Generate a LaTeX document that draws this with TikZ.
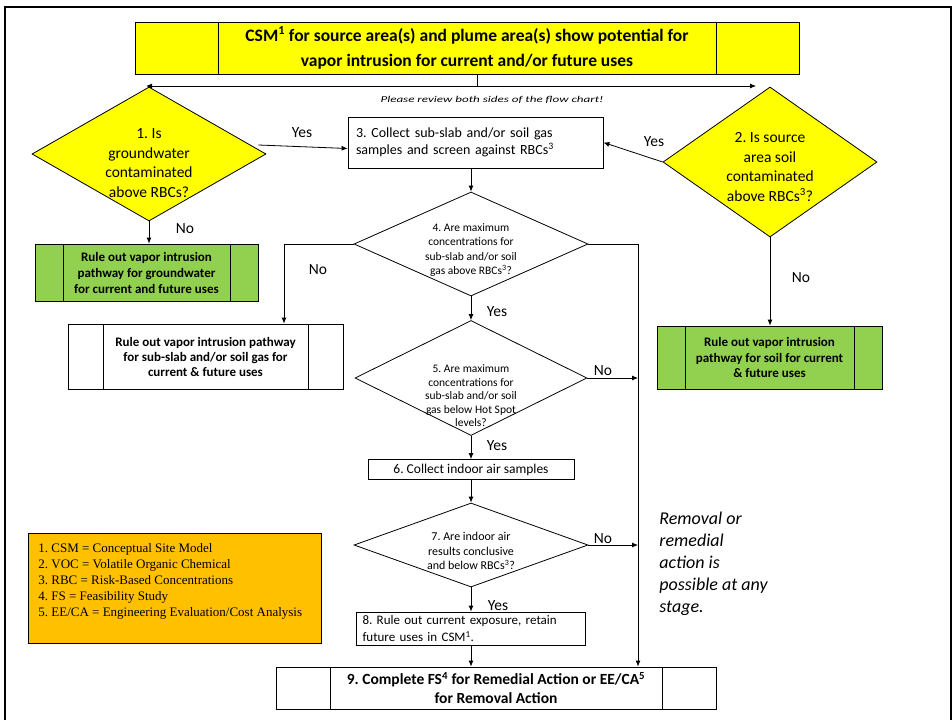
\documentclass[tikz,border=0pt]{standalone}
\usepackage{fontspec}
\usepackage{graphicx}
\setmainfont{Carlito}
\newfontfamily\legendfont{Liberation Serif}
\usetikzlibrary{shapes.geometric, arrows.meta}

\definecolor{flowyellow}{HTML}{FFFF00}
\definecolor{rulegreen}{HTML}{92D050}
\definecolor{keyorange}{HTML}{FFC000}

\newcommand{\setfs}[2]{\fontsize{#1}{#2}\selectfont}

\begin{document}
\frenchspacing
\begin{tikzpicture}[x=1pt, y=-1pt, >={Latex[length=6pt,width=5pt]}, line width=0.8pt,
        decision/.style={diamond, draw, fill=white, inner sep=0pt},
        dtext/.style={align=center, inner sep=0pt},
        procbox/.style={draw, fill=white, inner sep=0pt},
        predef/.style={procbox, path picture={
            \draw ([xshift=#1]path picture bounding box.north west) -- ([xshift=#1]path picture bounding box.south west);
            \draw ([xshift=-#1]path picture bounding box.north east) -- ([xshift=-#1]path picture bounding box.south east);}},
        lbl/.style={font=\setfs{15.5}{18}, inner sep=0pt}]
    \useasboundingbox (0,0) rectangle (952,720);
    \fill[white] (0,0) rectangle (952,720);
    \draw[line width=2pt] (5,720) -- (5,7) -- (951,7) -- (951,720);

    % Nodes
    \node[predef=83pt, fill=flowyellow, minimum width=664pt, minimum height=52pt, align=center,
          font=\bfseries\setfs{17.5}{25}] (csm) at (467,48)
        {CSM\textsuperscript{1} for source area(s) and plume area(s) show potential for\\vapor intrusion for current and/or future uses};
    \coordinate (split) at (477,86);
    \coordinate (arrL) at (146,86);
    \coordinate (arrR) at (756,86);
    \node[font=\itshape\setfs{9}{10}, inner sep=0pt] (review) at (492,100)
        {\scalebox{1.45}[1]{Please review both sides of the flow chart!}};

    \node[decision, fill=flowyellow, minimum width=234pt, minimum height=134pt] (q1) at (149,154) {};
    \node[dtext, font=\setfs{15.5}{19.5}] (q1txt) at (149,163) {1. Is\\groundwater\\contaminated\\above RBCs?};
    \node[decision, fill=flowyellow, minimum width=214pt, minimum height=150pt] (q2) at (770,162) {};
    \node[dtext, font=\setfs{15.5}{19.5}] (q2txt) at (770,167) {2. Is source\\area soil\\contaminated\\above RBCs\textsuperscript{3}?};

    \node[procbox, minimum width=255pt, minimum height=51pt, text width=239pt, align=left,
          font=\setfs{14}{17}] (sample) at (475.5,142.5)
        {3. Collect sub-slab and/or soil gas\\samples and screen against RBCs\textsuperscript{3}};

    \node[decision, minimum width=234pt, minimum height=104pt] (q4) at (471,244) {};
    \node[dtext, font=\setfs{11.5}{14.3}] (q4txt) at (471,250) {4. Are maximum\\concentrations for\\sub-slab and/or soil\\gas above RBCs\textsuperscript{3}?};
    \node[decision, minimum width=232pt, minimum height=115pt] (q5) at (471,378) {};
    \node[dtext, font=\setfs{11.5}{13.5}] (q5txt) at (471,396) {5. Are maximum\\concentrations for\\sub-slab and/or soil\\gas below Hot Spot\\levels?};
    \node[procbox, minimum width=206pt, minimum height=20pt, font=\setfs{13.5}{16}] (indoor) at (471,469.5) {6. Collect indoor air samples};
    \node[decision, minimum width=234pt, minimum height=84pt] (q7) at (471,545) {};
    \node[dtext, font=\setfs{12}{14.5}] (q7txt) at (471,551) {7. Are indoor air\\results conclusive\\and below RBCs\textsuperscript{3}?};
    \node[procbox, minimum width=229pt, minimum height=33pt, text width=217pt, align=left,
          font=\setfs{13}{17}] (exposure) at (471,628.5)
        {8. Rule out current exposure, retain\\future uses in CSM\textsuperscript{1}.};
    \node[predef=54pt, minimum width=440pt, minimum height=42pt, align=center,
          font=\bfseries\setfs{15.5}{19}] (fs) at (496,688)
        {9. Complete FS\textsuperscript{4} for Remedial Action or EE/CA\textsuperscript{5}\\for Removal Action};

    \node[predef=28pt, fill=rulegreen, minimum width=223pt, minimum height=57pt, align=center,
          font=\bfseries\setfs{13}{16}] (green1) at (146.5,272.5)
        {Rule out vapor intrusion\\pathway for groundwater\\for current and future uses};
    \node[predef=35pt, minimum width=275pt, minimum height=65pt, align=center,
          font=\bfseries\setfs{13}{15}] (ruleout) at (205.5,356.5)
        {Rule out vapor intrusion pathway\\for sub-slab and/or soil gas for\\current \& future uses};
    \node[predef=28pt, fill=rulegreen, minimum width=225pt, minimum height=63pt, align=center,
          font=\bfseries\setfs{13}{15.5}] (green2) at (769.5,357.5)
        {Rule out vapor intrusion\\pathway for soil for current\\\& future uses};

    \node[procbox, fill=keyorange, minimum width=293pt, minimum height=110pt] (legend) at (174.5,588) {};
    \node[anchor=north west, align=left, inner sep=0pt, font=\legendfont\setfs{13}{16}] (legendtxt) at (38,543)
        {1. CSM = Conceptual Site Model\\2. VOC = Volatile Organic Chemical\\3. RBC = Risk-Based Concentrations\\4. FS = Feasibility Study\\5. EE/CA = Engineering Evaluation/Cost Analysis};
    \node[anchor=north west, align=left, inner sep=0pt, font=\itshape\setfs{18}{22}] (anytime) at (659,512)
        {Removal or\\remedial\\action is\\possible at any\\stage.};

    % Labels
    \node[lbl] (yes1) at (302,133) {Yes};
    \node[lbl] (yes2) at (654,142) {Yes};
    \node[lbl] (no1) at (185,229) {No};
    \node[lbl] (no2) at (801,278) {No};
    \node[lbl] (no4) at (318,270) {No};
    \node[lbl] (yes4) at (497,312) {Yes};
    \node[lbl] (no5) at (603,371) {No};
    \node[lbl] (yes5) at (497,446) {Yes};
    \node[lbl] (no7) at (603,539) {No};
    \node[lbl] (yes7) at (498,606) {Yes};

    % Arrows
    \coordinate (lcorner) at (284,244);
    \coordinate (rcorner) at (638,244);
    \draw[<->] (arrL) -- (arrR);
    \draw (csm.south -| split) -- (split);
    \draw[->] ([shift={(-8pt,9pt)}]q1.east) -- ([yshift=-6pt]sample.west);
    \draw[->] (q2.west) -- (sample.east);
    \draw[->] (q1.south) -- (q1.south |- green1.north);
    \draw[->] (q2.south) -- (q2.south |- green2.north);
    \draw[->] (q4.north |- sample.south) -- (q4.north);
    \draw[->] (q4.west) -- (lcorner) -- (lcorner |- ruleout.north);
    \draw[->] (q4.east) -- (rcorner) -- (rcorner |- fs.north);
    \draw[->] (q4.south) -- (q5.north);
    \draw[->] (q5.east) -- (q5.east -| rcorner);
    \draw[->] (q5.south) -- (indoor.north);
    \draw[->] (indoor.south) -- (q7.north);
    \draw[->] (q7.east) -- (q7.east -| rcorner);
    \draw[->] (q7.south) -- (exposure.north);
    \draw[->] (exposure.south) -- (exposure.south |- fs.north);
\end{tikzpicture}
\end{document}
